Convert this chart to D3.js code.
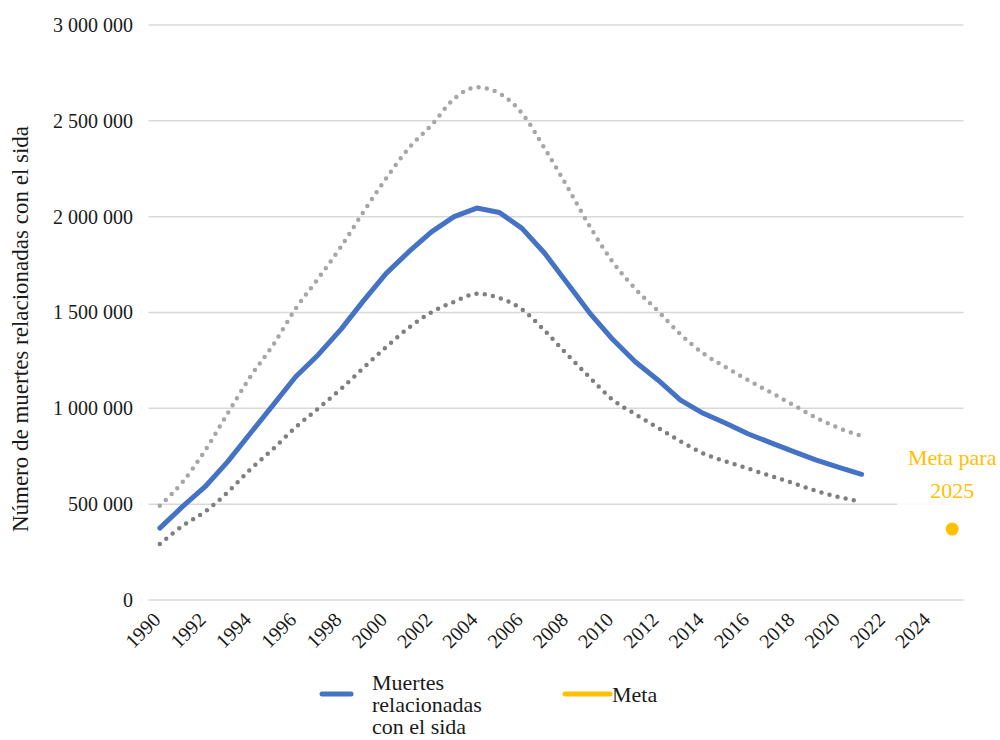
<!DOCTYPE html>
<html>
<head>
<meta charset="utf-8">
<script src="https://cdn.jsdelivr.net/npm/d3@7"></script>
<style>
  body { margin: 0; background: #fff; }
</style>
</head>
<body>
<div id="chart"></div>
<script>
// categories (x axis) and tick labels
var years = [1990, 1991, 1992, 1993, 1994, 1995, 1996, 1997, 1998, 1999, 2000, 2001, 2002, 2003, 2004, 2005,
    2006, 2007, 2008, 2009, 2010, 2011, 2012, 2013, 2014, 2015, 2016, 2017, 2018, 2019, 2020, 2021]
var axisYears = [1990, 1991, 1992, 1993, 1994, 1995, 1996, 1997, 1998, 1999, 2000, 2001, 2002, 2003, 2004, 2005,
    2006, 2007, 2008, 2009, 2010, 2011, 2012, 2013, 2014, 2015, 2016, 2017, 2018, 2019, 2020, 2021,
    2022, 2023, 2024, 2025]
var tickYears = [1990, 1992, 1994, 1996, 1998, 2000, 2002, 2004, 2006, 2008, 2010, 2012, 2014, 2016, 2018, 2020, 2022, 2024]
var yTicks = [0, 500000, 1000000, 1500000, 2000000, 2500000, 3000000]

// series values
var deaths = [375000, 487000, 591000, 722000, 870000, 1017000, 1165000, 1280000, 1412000, 1562000,
    1704000, 1817000, 1921000, 2000000, 2045000, 2022000, 1939000, 1809000, 1652000, 1496000,
    1360000, 1243000, 1148000, 1043000, 974000, 922000, 866000, 820000, 774000, 730000, 692000, 656000]
var upper = [492000, 615000, 780000, 974000, 1165000, 1330000, 1520000, 1678000, 1843000, 2026000,
    2200000, 2358000, 2478000, 2615000, 2675000, 2643000, 2539000, 2356000, 2156000, 1948000,
    1765000, 1624000, 1508000, 1386000, 1287000, 1214000, 1146000, 1082000, 1016000, 951000, 897000, 856000]
var lower = [292000, 386000, 461000, 562000, 682000, 788000, 901000, 1000000, 1101000, 1212000,
    1320000, 1421000, 1501000, 1556000, 1598000, 1576000, 1516000, 1405000, 1280000, 1160000,
    1045000, 970000, 899000, 828000, 765000, 723000, 685000, 647000, 609000, 569000, 537000, 513000]
var metaYear = 2025
var metaValue = 370000

const width = 1000, height = 740;
const serif = "'Liberation Serif', 'Times New Roman', Times, serif"

const svg = d3.select("#chart")
    .append("svg")
    .attr("width", width)
    .attr("height", height)
    .attr("font-family", serif)

var x = d3.scaleBand()
    .domain(axisYears)
    .range([148.5, 963.5])
    .padding(0)

var y = d3.scaleLinear()
    .domain([0, 3000000])
    .range([600, 25])

var fmt = d3.formatLocale({ decimal: ",", thousands: " ", grouping: [3], currency: ["", ""] }).format(",d")
var cx = d => x(d) + x.bandwidth() / 2

// gridlines
svg.append("g")
    .selectAll("line")
    .data(yTicks)
    .join("line")
    .attr("x1", x.range()[0])
    .attr("x2", x.range()[1])
    .attr("y1", d => y(d))
    .attr("y2", d => y(d))
    .style("stroke", "#d9d9d9")
    .style("stroke-width", 1.5)

// y axis labels
const yAxis = svg.append("g")
    .attr("transform", "translate(133,0)")
    .call(d3.axisLeft(y).tickValues(yTicks).tickFormat(fmt).tickSize(0).tickPadding(0))
    .attr("font-family", serif)
yAxis.select(".domain").remove()
yAxis.selectAll("text")
    .style("font-size", "20px")
    .style("fill", "#1a1a1a")

// x axis labels
const xAxis = svg.append("g")
    .attr("transform", "translate(0,600)")
    .call(d3.axisBottom(x).tickValues(tickYears).tickSize(0))
    .attr("font-family", serif)
xAxis.select(".domain").remove()
xAxis.selectAll("text")
    .attr("text-anchor", "end")
    .attr("dy", null)
    .attr("y", 0)
    .attr("transform", "translate(2,21) rotate(-45)")
    .style("font-size", "20px")
    .style("fill", "#1a1a1a")

// y axis title
svg.append("text")
    .attr("transform", "translate(28,329) rotate(-90)")
    .attr("text-anchor", "middle")
    .style("font-size", "23px")
    .style("fill", "#1a1a1a")
    .text("Número de muertes relacionadas con el sida")

// confidence bounds (dotted)
const boundLine = d3.line()
    .x((d, i) => cx(years[i]))
    .y(d => y(d))
    .curve(d3.curveMonotoneX)

svg.append("path")
    .datum(upper)
    .attr("d", boundLine)
    .style("fill", "none")
    .style("stroke", "#a6a6a6")
    .style("stroke-width", 4.5)
    .style("stroke-linecap", "round")
    .style("stroke-dasharray", "0 8.3")

svg.append("path")
    .datum(lower)
    .attr("d", boundLine)
    .style("fill", "none")
    .style("stroke", "#7f7f7f")
    .style("stroke-width", 4.5)
    .style("stroke-linecap", "round")
    .style("stroke-dasharray", "0 8.3")

// main series
const mainLine = d3.line()
    .x((d, i) => cx(years[i]))
    .y(d => y(d))

svg.append("path")
    .datum(deaths)
    .attr("d", mainLine)
    .style("fill", "none")
    .style("stroke", "#4472c4")
    .style("stroke-width", 5)
    .style("stroke-linecap", "round")
    .style("stroke-linejoin", "round")

// target label with white box
svg.append("rect")
    .attr("x", 897)
    .attr("y", 438)
    .attr("width", 103)
    .attr("height", 67)
    .style("fill", "#fff")
    .style("opacity", 0.85)

const metaLabel = svg.append("text")
    .attr("text-anchor", "middle")
    .style("font-size", "22px")
    .style("fill", "#ffc000")
metaLabel.append("tspan").attr("x", cx(metaYear)).attr("y", 465).text("Meta para")
metaLabel.append("tspan").attr("x", cx(metaYear)).attr("y", 498).text("2025")

svg.append("circle")
    .attr("cx", cx(metaYear))
    .attr("cy", y(metaValue))
    .attr("r", 6.5)
    .style("fill", "#ffc000")

// legend
const legend = svg.append("g")
legend.append("line")
    .attr("x1", 322).attr("x2", 351).attr("y1", 694).attr("y2", 694)
    .style("stroke", "#4472c4").style("stroke-width", 5).style("stroke-linecap", "round")
const legText = legend.append("text")
    .style("font-size", "22px")
    .style("fill", "#1a1a1a")
legText.append("tspan").attr("x", 372).attr("y", 690).text("Muertes")
legText.append("tspan").attr("x", 372).attr("y", 712).text("relacionadas")
legText.append("tspan").attr("x", 372).attr("y", 734).text("con el sida")

legend.append("line")
    .attr("x1", 565).attr("x2", 610).attr("y1", 694).attr("y2", 694)
    .style("stroke", "#ffc000").style("stroke-width", 5).style("stroke-linecap", "round")
legend.append("text")
    .attr("x", 612).attr("y", 702)
    .style("font-size", "22px")
    .style("fill", "#1a1a1a")
    .text("Meta")
</script>
</body>
</html>
